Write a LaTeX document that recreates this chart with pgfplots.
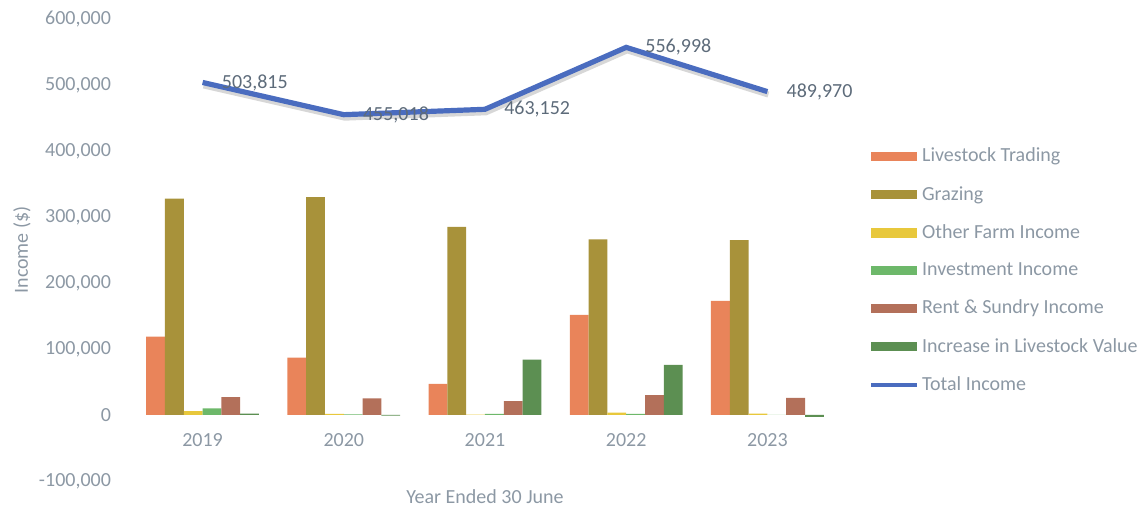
\documentclass[border=0pt]{standalone}
\usepackage{pgfplots}
\pgfplotsset{compat=1.18}
\usepackage{fontspec}
\setmainfont{Carlito}
\definecolor{cLT}{HTML}{E9845A}
\definecolor{cGZ}{HTML}{A8923A}
\definecolor{cOF}{HTML}{E8C83C}
\definecolor{cIN}{HTML}{6DB86A}
\definecolor{cRS}{HTML}{B3705A}
\definecolor{cIL}{HTML}{5C8F52}
\definecolor{cTI}{HTML}{4A6CBF}
\definecolor{tick}{HTML}{8C98A4}
\definecolor{lab}{HTML}{5D6B7A}
\pgfplotsset{
  barleg/.style={legend image code/.code={\fill[##1] (0pt,-2.3pt) rectangle (23pt,2.3pt);}},
  lineleg/.style={legend image code/.code={\draw[##1, line width=2pt] (0pt,0pt) -- (23pt,0pt);}},
}
\begin{document}
\begin{tikzpicture}
\begin{axis}[name=ax,
  scale only axis, width=353pt, height=231pt,
  xmin=-0.5, xmax=4.5, ymin=-100000, ymax=600000,
  axis x line=middle, axis y line*=left,
  x axis line style={draw=none}, y axis line style={draw=none},
  major tick length=0pt,
  xtick={0,1,2,3,4}, xticklabels={2019,2020,2021,2022,2023},
  ytick={-100000,0,100000,200000,300000,400000,500000,600000},
  scaled y ticks=false,
  /pgf/number format/.cd, fixed, precision=0, 1000 sep={,}, assume math mode=true,
  /pgfplots/.cd,
  tick label style={text=tick},
  xticklabel style={yshift=-5.5pt},
  yticklabel style={xshift=-7pt},
  every axis x label/.style={at={(rel axis cs:0.5,0)}, anchor=center, yshift=-8pt, text=tick},
  every axis y label/.style={at={(rel axis cs:0,0.5)}, xshift=-55pt, anchor=center, rotate=90, text=tick},
  xlabel={Year Ended 30 June}, ylabel={Income (\$)},
  legend style={at={(1.035,0.455)}, anchor=west, draw=none, fill=none, text=tick,
    row sep=7.7pt, nodes={inner sep=1.5pt}},
  legend cell align=left,
]
\addplot[ybar, bar width=9.4pt, bar shift=-23.5pt, fill=cLT, draw=none, barleg]
  coordinates {(0,118600) (1,87000) (2,47000) (3,151500) (4,173000)};
\addlegendentry{Livestock Trading}
\addplot[ybar, bar width=9.4pt, bar shift=-14.1pt, fill=cGZ, draw=none, barleg]
  coordinates {(0,328000) (1,330000) (2,285000) (3,266000) (4,265000)};
\addlegendentry{Grazing}
\addplot[ybar, bar width=9.4pt, bar shift=-4.7pt, fill=cOF, draw=none, barleg]
  coordinates {(0,6000) (1,1500) (2,500) (3,3500) (4,2000)};
\addlegendentry{Other Farm Income}
\addplot[ybar, bar width=9.4pt, bar shift=4.7pt, fill=cIN, draw=none, barleg]
  coordinates {(0,10000) (1,1000) (2,1500) (3,1500) (4,300)};
\addlegendentry{Investment Income}
\addplot[ybar, bar width=9.4pt, bar shift=14.1pt, fill=cRS, draw=none, barleg]
  coordinates {(0,27000) (1,25000) (2,21000) (3,30000) (4,26000)};
\addlegendentry{Rent \& Sundry Income}
\addplot[ybar, bar width=9.4pt, bar shift=23.5pt, fill=cIL, draw=none, barleg]
  coordinates {(0,2000) (1,-1000) (2,84000) (3,76000) (4,-3000)};
\addlegendentry{Increase in Livestock Value}
\addplot[sharp plot, no marks, line width=3pt, black!35, opacity=0.45, yshift=-1.5pt, xshift=0.5pt, forget plot]
  coordinates {(0,503815) (1,455018) (2,463152) (3,556998) (4,489970)};
\addplot[sharp plot, no marks, line width=2.6pt, cTI, lineleg,
  nodes near coords, every node near coord/.style={anchor=west, xshift=5pt, text=lab, font=\normalsize}]
  coordinates {(0,503815) (1,455018) (2,463152) (3,556998) (4,489970)};
\addlegendentry{Total Income}
\end{axis}
\pgfresetboundingbox
\path ([xshift=-66pt,yshift=-15.5pt]ax.south west) rectangle ([xshift=154pt,yshift=9.5pt]ax.north east);
\end{tikzpicture}
\end{document}
